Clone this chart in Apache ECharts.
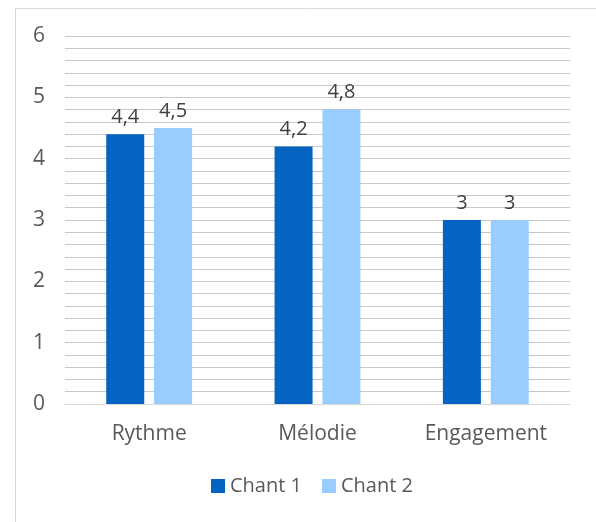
<!DOCTYPE html>
<html><head><meta charset="utf-8">
<script src="https://cdn.jsdelivr.net/npm/echarts@6/dist/echarts.min.js"></script>
<style>html,body{margin:0;padding:0;background:#fff}#c{width:596px;height:522px}</style>
</head><body><div id="c"></div>
<script>
const categories = ['Rythme', 'Mélodie', 'Engagement'];
const chant1 = [4.4, 4.2, 3];
const chant2 = [4.5, 4.8, 3];
const seriesNames = ['Chant 1', 'Chant 2'];
const FONT = '"Open Sans", sans-serif';
const chart = echarts.init(document.getElementById('c'), null, {renderer: 'canvas'});
const fmt = p => String(p.value).replace('.', ',');
chart.setOption({
  animation: false,
  textStyle: {fontFamily: FONT},
  graphic: [{type: 'rect', left: 13, top: 6, shape: {width: 640, height: 560}, style: {fill: 'none', stroke: '#d9d9d9', lineWidth: 1}, silent: true}],
  grid: {left: 65, right: 26, top: 36, bottom: 118},
  legend: {
    bottom: 21, left: 206, itemWidth: 14, itemHeight: 14, itemGap: 20, icon: 'rect',
    textStyle: {fontSize: 20, color: '#595959', fontFamily: FONT},
    data: seriesNames
  },
  xAxis: {
    type: 'category', data: categories,
    axisLine: {lineStyle: {color: '#d9d9d9'}}, axisTick: {show: false},
    axisLabel: {fontSize: 21, color: '#595959', margin: 20, fontFamily: FONT}
  },
  yAxis: {
    type: 'value', min: 0, max: 6, interval: 1,
    axisLine: {show: false}, axisTick: {show: false},
    axisLabel: {fontSize: 21, color: '#595959', margin: 20, fontFamily: FONT},
    splitLine: {lineStyle: {color: '#c8c8c8'}},
    minorTick: {show: false, splitNumber: 5},
    minorSplitLine: {show: true, lineStyle: {color: '#c8c8c8'}}
  },
  series: [
    {name: seriesNames[0], type: 'bar', data: chant1, barWidth: 38, barGap: '26%',
     itemStyle: {color: '#0563c1'},
     label: {show: true, position: 'top', fontSize: 20, color: '#404040', distance: 7, formatter: fmt, fontFamily: FONT}},
    {name: seriesNames[1], type: 'bar', data: chant2, barWidth: 38, barGap: '26%',
     itemStyle: {color: '#99ccff'},
     label: {show: true, position: 'top', fontSize: 20, color: '#404040', distance: 7, formatter: fmt, fontFamily: FONT}}
  ]
});
</script></body></html>
